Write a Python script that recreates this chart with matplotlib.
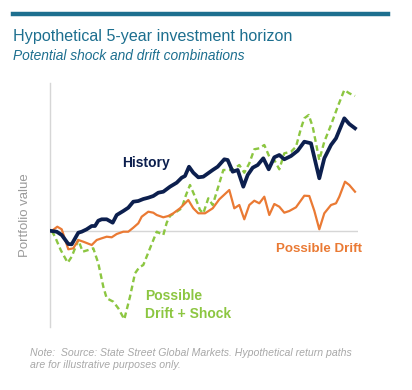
import matplotlib
matplotlib.use("Agg")
import matplotlib.pyplot as plt
from matplotlib.lines import Line2D

# hypothetical paths, arbitrary units (0 = starting value)
hist_x = [0, 5, 10, 16.6, 20, 26.6, 30, 35, 40, 43.3, 46.6, 50, 55, 61, 65, 71.6, 76.6,
          81.6, 86.6, 91.6, 96.6, 101.6, 106.6, 111.6, 118.3, 125, 130, 133.3, 137.3,
          141.6, 146.6, 151.6, 161, 166, 172.6, 176, 181, 186, 191.6, 196, 201, 206,
          211.6, 217, 222.6, 227.6, 232.6, 239.3, 246, 252.6, 259.3, 267.6, 272.6,
          279.3, 284.3, 292.6, 297.6, 303.3]
hist_y = [0, -0.7, -4, -13, -13.3, -1.7, -0.7, 1.7, 5, 5, 10.3, 11.7, 11.7, 8.3, 16, 20,
          23.3, 29.3, 30, 32, 33.3, 35, 38.3, 39.3, 44.3, 48.3, 53.3, 55, 64.3, 58.3,
          53.7, 54.3, 61, 64.3, 71.7, 71, 59.3, 61, 44.3, 56, 63.3, 66, 72.7, 61.7,
          73.7, 76, 71.7, 75, 80.3, 89.3, 87.7, 52.7, 72.7, 86, 92.7, 112.7, 107, 102.7]

drift_x = [0, 5.6, 10, 16.6, 21.6, 26.6, 31.6, 40, 45, 50, 55, 60, 65, 71.6, 76.6, 81.6,
           86.6, 90, 96.6, 101.6, 105, 111.6, 116.6, 121.6, 128.3, 136.6, 141.6, 146.6,
           153.3, 161, 167.6, 177.6, 182.6, 187.6, 192.6, 197.6, 202.6, 207.6, 212.6,
           217.6, 222.6, 227.6, 232.6, 237.6, 244.3, 252.6, 257.6, 262.6, 267.6, 272.6,
           279.3, 284.3, 287.6, 293.3, 297.6, 303.3]
drift_y = [0, 4.3, 1.7, -18.3, -17.3, -9, -10.7, -14, -9, -7.3, -5.7, -6.3, -3, -0.7,
           -0.7, 3.3, 7.7, 14.3, 19.3, 18.3, 16, 13.7, 15, 17.7, 22.7, 31, 22.7, 17.7,
           17.7, 22.7, 31.7, 41, 22.7, 26, 11.7, 26, 30.3, 27.7, 34.3, 16, 27, 24.3,
           18.3, 20, 23.7, 35.3, 35, 20.3, 1.7, 17.7, 26, 27.7, 34.3, 49.3, 46, 39.3]

shock_x = [0, 3.3, 9, 16, 20, 26.6, 31, 36.6, 41.6, 46.6, 51.6, 55, 61.6, 66.6, 72.6,
           78.3, 83.3, 87.6, 91.6, 98.3, 105, 111.6, 115, 118.3, 123.3, 130, 134.3,
           138.3, 143.3, 148.3, 151.6, 156.6, 161, 166.6, 171.6, 181, 187.6, 192.6,
           197.6, 202.6, 207.6, 212.6, 217.6, 222.6, 227.6, 232.6, 239.3, 244.3, 249.3,
           252.6, 257, 261, 267.6, 272.6, 279.3, 286, 292.6, 297.6, 303.3]
shock_y = [0, -5.7, -19, -31.7, -25.7, -9, -20.7, -19, -17.3, -32.3, -55.7, -67.3,
           -70.7, -77.3, -88.3, -65.7, -42.3, -36.3, -34, -17.3, -0.7, -4, 8.3, 15,
           18.3, 22.7, 36, 46, 34.3, 21, 17.7, 32.7, 26, 44.3, 61, 61, 66, 58.3, 67.7,
           81.7, 82.7, 86, 74.3, 71, 61.7, 77.7, 79.3, 84.3, 102.7, 112.7, 116, 104.3,
           71, 89.3, 106, 124.3, 141, 137.7, 135]

TEAL = "#1d6f8f"
NAVY = "#0c1f4e"
ORANGE = "#ea7a34"
GREEN = "#8cc641"
GREY = "#9a9a9a"

plt.rcParams["font.family"] = ["Liberation Sans", "DejaVu Sans"]

fig = plt.figure(figsize=(4.12, 3.9), dpi=100)
W, H = 412, 390

# top rule
fig.add_artist(Line2D([13 / W, 388 / W], [1 - 14 / H, 1 - 14 / H], color=TEAL, lw=3.2))
fig.text(13 / W, 1 - 37 / H, "Hypothetical 5-year investment horizon", color=TEAL,
         fontsize=11.6, va="center", ha="left")
fig.text(13 / W, 1 - 56 / H, "Potential shock and drift combinations", color=TEAL,
         fontsize=9.9, style="italic", va="center", ha="left")

ax = fig.add_axes([50 / W, 1 - 327 / H, 308 / W, 244 / H])
ax.set_xlim(-1.7, 306.3)
ax.set_ylim(-96, 148)
for s in ["top", "right", "bottom"]:
    ax.spines[s].set_visible(False)
ax.spines["left"].set_color("#d6d6d6")
ax.spines["left"].set_linewidth(1)
ax.set_xticks([])
ax.set_yticks([])
ax.axhline(0, color="#d6d6d6", lw=1, zorder=1)

ax.plot(drift_x, drift_y, color=ORANGE, lw=1.6, zorder=3)
ax.plot(shock_x, shock_y, color=GREEN, lw=1.7, dashes=(2.4, 1.5), zorder=2)
ax.plot(hist_x, hist_y, color=NAVY, lw=2.7, zorder=4, solid_joinstyle="round")

ax.text(70.3, 231 - 163, "History", color=NAVY, fontsize=10, fontweight="bold",
        va="center", ha="left")
ax.text(224.3, 231 - 249, "Possible Drift", color=ORANGE, fontsize=9.6,
        fontweight="bold", va="center", ha="left")
ax.text(93.3, 231 - 305, "Possible\nDrift + Shock", color=GREEN, fontsize=10,
        fontweight="bold", va="center", ha="left", linespacing=1.3)

fig.text(25 / W, 1 - 215 / H, "Portfolio value", color=GREY, fontsize=9.5,
         rotation=90, va="center", ha="center")

fig.text(30 / W, 1 - 359 / H,
         "Note:  Source: State Street Global Markets. Hypothetical return paths\n"
         "are for illustrative purposes only.",
         color="#a8a8a8", fontsize=7.6, style="italic", va="center", ha="left",
         linespacing=1.2)

fig.savefig("out.png", dpi=100)
